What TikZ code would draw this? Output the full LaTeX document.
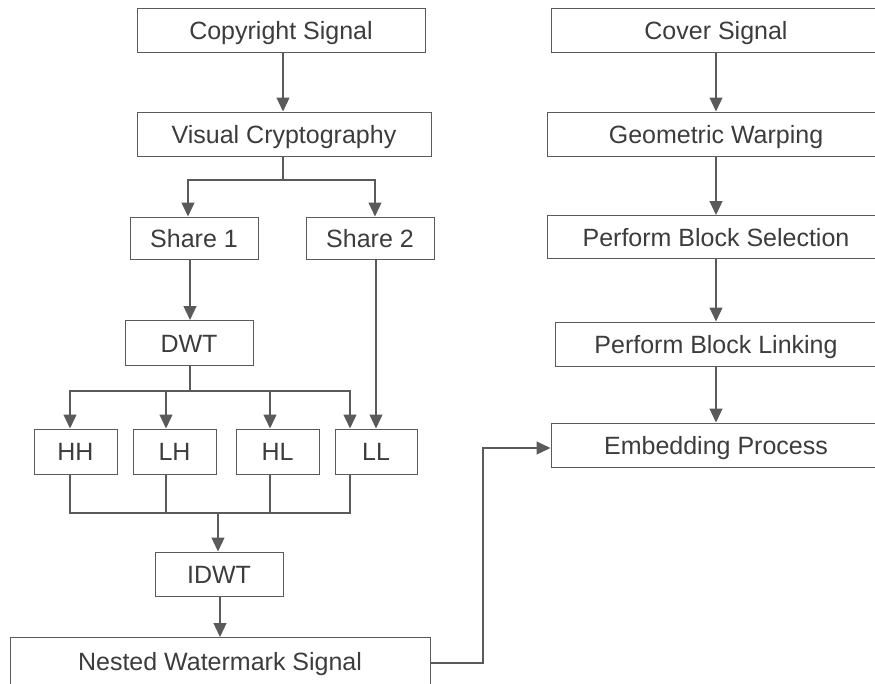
\documentclass[tikz,border=0pt]{standalone}
\usepackage{fontspec}
\setmainfont{Liberation Sans}
\usetikzlibrary{arrows.meta}
\definecolor{linegray}{HTML}{5A5A5A}
\definecolor{textgray}{HTML}{3C3C3C}

\begin{document}
\begin{tikzpicture}[x=1pt, y=-1pt,
    box/.style={draw=linegray, line width=1pt, text=textgray, inner sep=0pt,
      text height=20pt, text depth=2pt,
      minimum height=44pt, font=\fontsize{25}{28}\selectfont},
    wire/.style={draw=linegray, line width=1.2pt},
    arr/.style={wire, -{Triangle[length=14pt,width=13pt]}}]
      \useasboundingbox (0,0) rectangle (875,683);
      % left column
      \node (Cop) [box, minimum width=288pt] at (281,30) {Copyright Signal};
      \node (Vis) [box, minimum width=294pt] at (284,134) {Visual Cryptography};
      \node (ShA) [box, minimum width=128pt, minimum height=42pt] at (194,238) {Share 1};
      \node (ShB) [box, minimum width=128pt, minimum height=42pt] at (370,238) {Share 2};
      \node (Dwt) [box, minimum width=128pt, minimum height=45pt] at (189,343) {DWT};
      \node (Hh) [box, minimum width=83pt, minimum height=45pt] at (75.5,451.5) {HH};
      \node (Lh) [box, minimum width=83pt, minimum height=45pt] at (174.5,451.5) {LH};
      \node (Hl) [box, minimum width=83pt, minimum height=45pt] at (277.5,451.5) {HL};
      \node (Ll) [box, minimum width=82pt, minimum height=45pt] at (376,451.5) {LL};
      \node (Idw) [box, minimum width=128pt] at (219,574) {IDWT};
      \node (Nes) [box, minimum width=420pt, minimum height=47pt] at (220,661) {Nested Watermark Signal};
      % right column
      \node (Cov) [box, minimum width=330pt] at (716,30) {Cover Signal};
      \node (Geo) [box, minimum width=338pt] at (716,134) {Geometric Warping};
      \node (Sel) [box, minimum width=338pt, minimum height=43pt] at (716,237) {Perform Block Selection};
      \node (Lin) [box, minimum width=322pt] at (716,344) {Perform Block Linking};
      \node (Emb) [box, minimum width=330pt] at (716,445) {Embedding Process};
      \coordinate (Fork) at (283,180);
      \coordinate (Split) at (190,391);
      \coordinate (Merge) at (218,513);
      \coordinate (Bend) at (483,663);
      \draw[arr] ([xshift=2pt]Cop.south) -- ([xshift=-1pt]Vis.north);
      \draw[wire] ([xshift=-1pt]Vis.south) -- (Fork);
      \draw[arr] (Fork) -| ([xshift=-6pt]ShA.north);
      \draw[arr] (Fork) -| ([xshift=5pt]ShB.north);
      \draw[arr] ([xshift=-4pt]ShA.south) -- ([xshift=1pt]Dwt.north);
      \draw[arr] ([xshift=6pt]ShB.south) -- (Ll.north);
      \draw[wire] ([xshift=1pt]Dwt.south) -- (Split);
      \draw[arr] (Split) -| ([xshift=-5.5pt]Hh.north);
      \draw[arr] (Split) -| ([xshift=-8.5pt]Lh.north);
      \draw[arr] (Split) -| ([xshift=-7.5pt]Hl.north);
      \draw[arr] (Split) -| ([xshift=-26pt]Ll.north);
      \draw[wire] ([xshift=-5.5pt]Hh.south) |- (Merge);
      \draw[wire] ([xshift=-8.5pt]Lh.south) |- (Merge);
      \draw[wire] ([xshift=-7.5pt]Hl.south) |- (Merge);
      \draw[wire] ([xshift=-26pt]Ll.south) |- (Merge);
      \draw[arr] (Merge) -- ([xshift=-1pt]Idw.north);
      \draw[arr] ([xshift=1pt]Idw.south) -- (Nes.north);
      \draw[arr] ([yshift=-2pt]Nes.east) -- (Bend) |- ([yshift=-3pt]Emb.west);
      \draw[arr] (Cov) -- (Geo);
      \draw[arr] (Geo) -- (Sel);
      \draw[arr] (Sel) -- (Lin);
      \draw[arr] (Lin) -- (Emb);
    \end{tikzpicture}
\end{document}
